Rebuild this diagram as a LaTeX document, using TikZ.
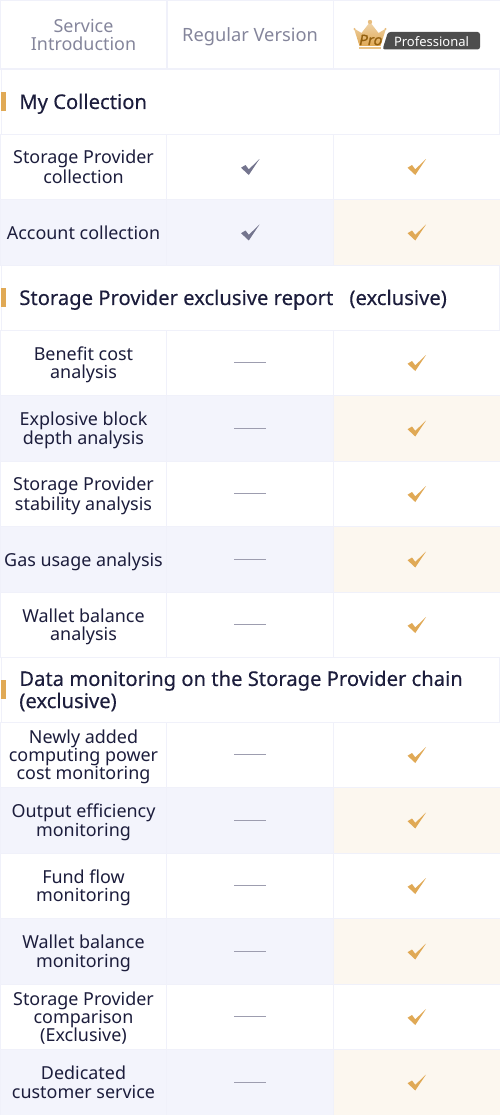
\documentclass[tikz,border=0pt]{standalone}
\usepackage{fontspec}
\setmainfont{Noto Sans}
\newfontfamily\titlefont{Noto Sans}[FakeBold=0.3]
\newfontfamily\profont{Noto Sans}[FakeBold=1.2, FakeSlant=0.2]
\definecolor{gridline}{HTML}{F0F1FA}
\definecolor{lavender}{HTML}{F3F4FC}
\definecolor{cream}{HTML}{FCF7EF}
\definecolor{golden}{HTML}{E0A955}
\definecolor{slate}{HTML}{74758E}
\definecolor{headgray}{HTML}{84859B}
\definecolor{ink}{HTML}{1C1D3C}
\definecolor{probrown}{HTML}{94600F}
\definecolor{badge}{HTML}{4D4D4D}
\tikzset{
    cell/.style={draw=gridline, line width=0.02cm, inner sep=0pt, minimum width=167*0.02cm},
    rowlabel/.style={inner sep=0pt, yshift=-0.048cm, text depth=2.5pt, align=center, text=ink, font=\fontsize{10.2}{10.4}\selectfont},
    band/.style={draw=gridline, line width=0.02cm, minimum width=498*0.02cm, minimum height=65*0.02cm},
    title/.style={anchor=west, inner sep=0pt, yshift=-0.04cm, text depth=2.5pt, align=left, text=ink, font=\titlefont\fontsize{11.5}{12.6}\selectfont},
    bar/.style={fill=golden, inner sep=0pt, minimum width=5*0.02cm, minimum height=19*0.02cm},
    head/.style={inner sep=0pt, yshift=-0.04cm, text depth=2.5pt, align=center, text=headgray, font=\fontsize{10.2}{10.2}\selectfont},
    dashline/.style={draw=headgray!80, line width=0.02cm},
    pics/tick/.style={code={
        \fill[pic actions] (-9,1.2) -- (-1.2,8.5) -- (9.5,-7.5) -- (-1.2,2.8) -- (-4.5,-1.5) -- cycle;
    }}
}
\begin{document}
\begin{tikzpicture}[x=0.02cm, y=-0.02cm]
    \useasboundingbox (0,0) rectangle (500,1115);

    % Header row
    \node[cell, minimum height=69*0.02cm] (headsvc) at (83.5,35) {};
    \node[cell, minimum height=69*0.02cm] (headreg) at (250,35) {};
    \node[cell, minimum height=69*0.02cm] (headpro) at (416.5,35) {};
    \node[head] (svclabel) at (83.5,35) {Service\\Introduction};
    \node[head, font=\fontsize{10.4}{10.4}\selectfont] (reglabel) at (250,35) {Regular Version};

    % Professional badge
    \fill[badge, rounded corners=0.05cm] (382.5,49.5) -- (388,32) -- (480,32) -- (480,49.5) -- cycle;
    \node[inner sep=0pt, text=white, font=\fontsize{7.4}{8}\selectfont] (prolabel) at (431.5,41.5) {Professional};
    \shade[top color=golden!50!white, bottom color=golden, draw=none] (354,28.5) -- (361.5,33) -- (370,22) -- (378.5,33) -- (386,28.5) -- (380.5,46) -- (359.5,46) -- cycle;
    \fill[golden!75!white] (370,22) circle (2.2);
    \fill[golden!75!white] (354.5,29) circle (1.2);
    \fill[golden!75!white] (385.5,29) circle (1.2);
    \fill[golden!70!white] (359,47.5) rectangle (381,49.5);
    \node[inner sep=0pt, text=probrown, font=\profont\fontsize{8.2}{8.6}\selectfont] (proicon) at (370,40) {Pro};

    % Section rows
    \foreach \secname/\secy/\sectext in {
        seccollect/101.5/{My Collection},
        secreport/297.5/{Storage Provider exclusive report\hspace{0.8em}(exclusive)},
        secchain/689.5/{Data monitoring on the Storage Provider chain\\(exclusive)}} {
        \node[band] (\secname) at (250,\secy) {};
        \node[bar] (\secname-bar) at (3.5,\secy) {};
        \node[title] (\secname-title) at (19,\secy) {\sectext};
    }

    % Table rows
    \foreach \rowname/\rowa/\rowb/\svcfill/\profill/\rowtext in {
        provider/134/199/white/white/{Storage Provider\\[0.04cm]collection},
        account/199/265/lavender/cream/{Account collection},
        benefit/330/395/white/white/{Benefit cost\\analysis},
        depth/395/461/lavender/cream/{Explosive block\\depth analysis},
        stability/461/526/white/white/{Storage Provider\\[0.04cm]stability analysis},
        gas/526/592/lavender/cream/{Gas usage analysis},
        wallet/592/657/white/white/{Wallet balance\\analysis},
        power/722/787/white/white/{Newly added\\computing power\\cost monitoring},
        output/787/853/lavender/cream/{Output efficiency\\monitoring},
        fund/853/918/white/white/{Fund flow\\monitoring},
        balance/918/984/lavender/cream/{Wallet balance\\monitoring},
        compare/984/1049/white/white/{Storage Provider\\comparison\\(Exclusive)},
        service/1049/1115/lavender/cream/{Dedicated\\customer service}} {
        \node[cell, fill=\svcfill, minimum height={(\rowb-\rowa)*0.02cm}] (\rowname-svc) at (83.5,{(\rowa+\rowb)/2}) {};
        \node[cell, fill=\svcfill, minimum height={(\rowb-\rowa)*0.02cm}] (\rowname-reg) at (250,{(\rowa+\rowb)/2}) {};
        \node[cell, fill=\profill, minimum height={(\rowb-\rowa)*0.02cm}] (\rowname-pro) at (416.5,{(\rowa+\rowb)/2}) {};
        \node[rowlabel] (\rowname-label) at (\rowname-svc.center) {\rowtext};
        \pic[fill=golden] (\rowname-tick) at (\rowname-pro.center) {tick};
    }

    % Regular column
    \foreach \rowname in {provider, account} {
        \pic[fill=slate] (\rowname-regtick) at (\rowname-reg.center) {tick};
    }
    \foreach \rowname in {benefit, depth, stability, gas, wallet, power, output, fund, balance, compare, service} {
        \draw[dashline] ([xshift=-0.32cm]\rowname-reg.center) -- ([xshift=0.32cm]\rowname-reg.center);
    }
\end{tikzpicture}
\end{document}
